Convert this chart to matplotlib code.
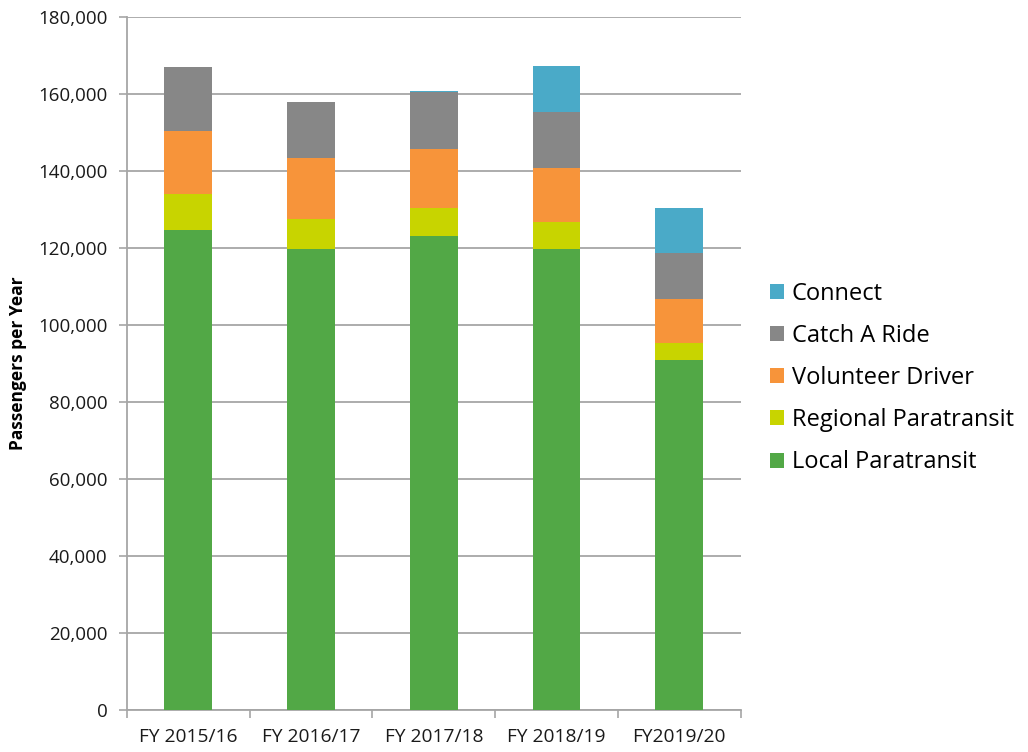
import numpy as np
import matplotlib.pyplot as plt
from matplotlib.ticker import FuncFormatter

plt.rcParams['font.family'] = ['Open Sans', 'DejaVu Sans']

years = ['FY 2015/16', 'FY 2016/17', 'FY 2017/18', 'FY 2018/19', 'FY2019/20']

local_paratransit = [124800, 119700, 123100, 119800, 90800]
regional_paratransit = [9100, 7800, 7400, 7000, 4500]
volunteer_driver = [16500, 16000, 15100, 14100, 11400]
catch_a_ride = [16500, 14300, 14800, 14300, 12100]
connect = [0, 0, 400, 12200, 11700]

series = [
    ('Local Paratransit', local_paratransit, '#52a846'),
    ('Regional Paratransit', regional_paratransit, '#c8d400'),
    ('Volunteer Driver', volunteer_driver, '#f7943a'),
    ('Catch A Ride', catch_a_ride, '#878787'),
    ('Connect', connect, '#4aaac8'),
]

fig = plt.figure(figsize=(10.28, 7.52), dpi=100)
ax = fig.add_axes([0.1235, 0.0559, 0.597, 0.9215])

x = np.arange(len(years))
bottom = np.zeros(len(years))
handles = []
for name, vals, color in series:
    h = ax.bar(x, vals, width=0.39, bottom=bottom, color=color, label=name, zorder=3)
    handles.append(h)
    bottom += np.array(vals)

ax.set_xlim(-0.5, len(years) - 0.5)
ax.set_ylim(0, 180000)
ax.set_yticks(np.arange(0, 180001, 20000))
ax.yaxis.set_major_formatter(FuncFormatter(lambda v, p: f'{int(v):,}'))
ax.grid(axis='y', color='#a6a6a6', linewidth=1.3, zorder=0)

# category labels centred, tick marks on the category boundaries
ax.set_xticks(x)
ax.set_xticklabels(years, fontsize=13.8, color='#1a1a1a')
ax.tick_params(axis='x', which='major', length=0, pad=13)
ax.set_xticks(np.arange(-0.5, len(years)), minor=True)
ax.tick_params(axis='x', which='minor', length=6, color='#a6a6a6', width=1.2)
ax.tick_params(axis='y', length=6, color='#a6a6a6', width=1.2, labelsize=13.5,
               labelcolor='#1a1a1a', pad=8)

for side in ['top', 'right']:
    ax.spines[side].set_visible(False)
for side in ['left', 'bottom']:
    ax.spines[side].set_color('#a6a6a6')
    ax.spines[side].set_linewidth(1.3)

ax.set_ylabel('Passengers per Year', fontsize=12.5, fontweight='bold', labelpad=8)

ax.legend(handles[::-1], [s[0] for s in series][::-1],
          loc='center left', bbox_to_anchor=(1.047, 0.479), frameon=False,
          borderpad=0, borderaxespad=0,
          fontsize=17, handlelength=0.6, handleheight=0.6, handletextpad=0.35,
          labelspacing=0.77)

fig.savefig('out.png', dpi=100)
